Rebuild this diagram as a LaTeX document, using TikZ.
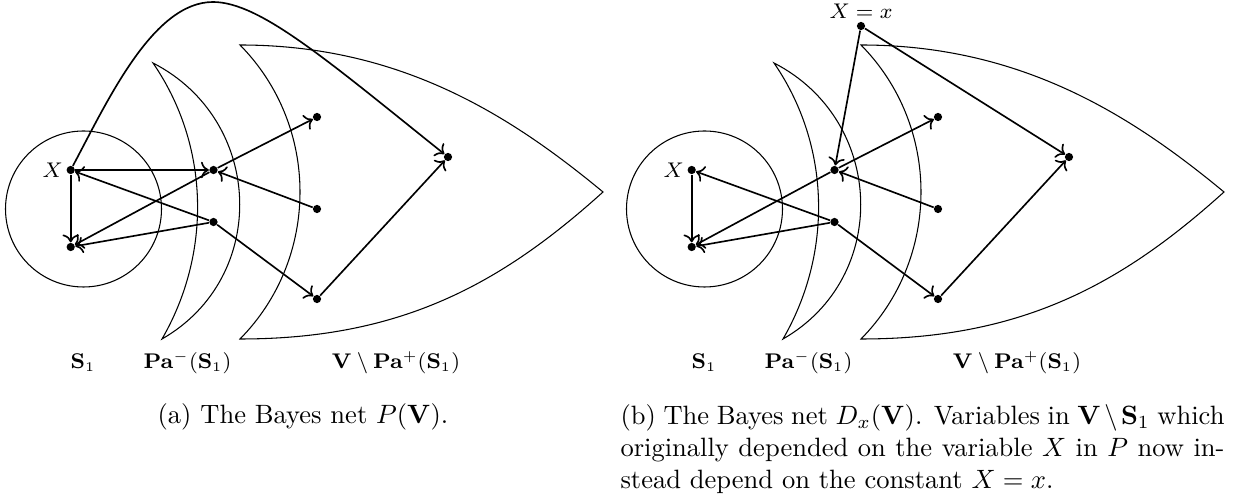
\documentclass[tikz,border=0pt]{standalone}
\usetikzlibrary{arrows.meta}
\begin{document}
\begin{tikzpicture}[x=0.377pt,y=-0.377pt,
  dot/.style={circle,fill,inner sep=0pt,minimum size=3.1pt},
  edge/.style={->,line width=0.62pt},
  region/.style={line width=0.4pt},
  lbl/.style={font=\fontsize{7.6}{9}\selectfont,inner sep=1pt}]
\useasboundingbox (0,0) rectangle (1237,496);
\foreach \p/\dx in {a/0,b/621}{
\begin{scope}[shift={(\dx,0)}]
  \draw[region] (83.5,209) circle[radius=78];
  \draw[region] (153,63) .. controls (264,120) and (270,277) .. (162,339)
                .. controls (212,252.5) and (209.6,145.3) .. (153,63) -- cycle;
  \draw[region] (240,45) .. controls (400,45) and (510,115) .. (603,192)
                .. controls (500,285) and (400,339) .. (240,339)
                .. controls (320,258) and (320,126) .. (240,45) -- cycle;
  \node[dot] (\p X) at (70.7,170) {};
  \node[dot] (\p L) at (70.7,247) {};
  \node[dot] (\p P1) at (213.5,170) {};
  \node[dot] (\p P2) at (213.5,222) {};
  \node[dot] (\p R1) at (317,117) {};
  \node[dot] (\p R2) at (317,209) {};
  \node[dot] (\p R3) at (317,299) {};
  \node[dot] (\p F) at (448,157) {};
  \node[lbl,anchor=east] (\p Xl) at (\p X.west) {$X$};
  \draw[edge] (\p X) -- (\p L);
  \draw[edge] (\p P2) -- (\p X);
  \draw[edge] (\p P1) -- (\p L);
  \draw[edge] (\p P2) -- (\p L);
  \draw[edge] (\p P1) -- (\p R1);
  \draw[edge] (\p R2) -- (\p P1);
  \draw[edge] (\p P2) -- (\p R3);
  \draw[edge] (\p R3) -- (\p F);
  \node[lbl,anchor=base] (\p s) at (83,369) {$\mathbf{S}_1$};
  \node[lbl,anchor=base] (\p pa) at (187.5,369) {$\mathbf{Pa}^-(\mathbf{S}_1)$};
  \node[lbl,anchor=base] (\p v) at (396,369) {$\mathbf{V}\setminus\mathbf{Pa}^+(\mathbf{S}_1)$};
\end{scope}
}
% panel (a)
\coordinate (aTop) at (213,2);
\draw[edge] (aX) -- (aP1);
\draw[edge] (aX) .. controls (108,100) and (153,2) .. (aTop)
                 .. controls (260,2) and (328,61) .. (aF);
\node[anchor=base,inner sep=0pt] (capa) at (303,424) {(a) The Bayes net $P(\mathbf{V})$.};
% panel (b)
\node[dot] (bC) at (861,26) {};
\node[lbl,anchor=south] (bCl) at (bC.north) {$X=x$};
\draw[edge] (bC) -- (bP1);
\draw[edge] (bC) -- (bF);
\node[anchor=north west,inner sep=0pt,text width=227.7pt,align=justify] (capb) at (620,404)
  {(b) The Bayes net $D_x(\mathbf{V})$. Variables in $\mathbf{V}\setminus\mathbf{S}_1$ which\linebreak
   originally depended on the variable $X$ in $P$ now in-\linebreak
   stead depend on the constant $X=x$.};
\end{tikzpicture}
\end{document}
